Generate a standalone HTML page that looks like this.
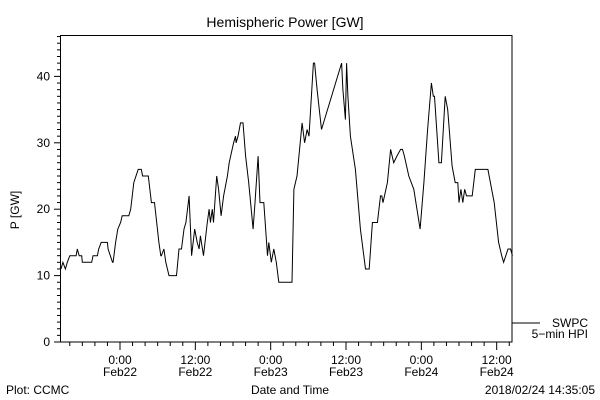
<!DOCTYPE html>
<html><head><meta charset="utf-8"><style>
html,body{margin:0;padding:0;background:#fff;}
svg{display:block;font-family:"Liberation Sans",sans-serif;}
text{font-size:12px;fill:#000;}
</style></head><body>
<svg id="chart" width="600" height="400">
<rect x="0" y="0" width="600" height="400" fill="#fff"/>
<text x="285" y="27" text-anchor="middle" style="font-size:14px">Hemispheric Power [GW]</text>
<text transform="translate(19,210) rotate(-90)" text-anchor="middle">P [GW]</text>
<text x="290" y="394" text-anchor="middle">Date and Time</text>
<text x="6" y="394">Plot: CCMC</text>
<text x="595" y="394" text-anchor="end">2018/02/24 14:35:05</text>
<line x1="512" y1="323" x2="540" y2="323" stroke="#000"/>
<text x="588" y="327" text-anchor="end">SWPC</text>
<text x="588" y="338" text-anchor="end">5−min HPI</text>
<g id="axes"></g>
<rect x="60.5" y="35.5" width="451.5" height="306.5" fill="none" stroke="#000"/>
</svg>
<script>
const hours=[-9.4,-9.1,-8.7,-8.4,-8.0,-7.0,-6.8,-6.5,-6.1,-6.0,-4.5,-4.3,-3.6,-3.4,-3.0,-2.0,-1.9,-1.2,-1.1,-0.7,-0.35,0.1,0.35,1.4,1.7,2.2,2.9,3.4,3.6,4.5,5.0,5.5,6.2,6.5,6.6,7.0,7.3,7.8,9.0,9.4,9.8,10.2,10.5,11.0,11.4,11.9,12.3,12.6,12.8,13.3,13.9,14.2,14.4,14.7,14.9,15.4,15.7,16.1,16.5,17.1,17.4,18.1,18.4,18.5,18.8,19.2,19.6,20.0,20.5,21.2,21.5,22.0,22.3,22.9,23.5,23.7,24.1,24.5,24.9,25.3,27.4,27.7,28.2,28.7,29.0,29.4,29.8,30.1,30.8,31.0,31.4,32.1,35.3,35.5,35.9,36.1,36.3,36.7,37.5,38.3,39.1,39.7,40.2,41.0,41.5,41.7,41.9,42.6,43.1,43.6,44.1,44.7,45.0,45.3,46.0,46.8,47.8,48.4,49.0,49.6,49.9,50.1,50.8,51.2,51.8,52.2,52.9,53.4,53.8,54.0,54.3,54.6,54.9,55.2,56.1,56.6,57.2,58.6,59.0,59.6,60.3,60.8,61.1,61.8,62.2,62.5];
const power=[11,12,11,12,13,13,14,13,13,12,12,13,13,14,15,15,14,12,12,15,17,18,19,19,20,24,26,26,25,25,21,21,15,13,13,14,12,10,10,14,14,17,18,22,13,17,15,14,16,13,18,20,18,20,18,25,23,19,22,25,27,30,31,30,31,33,33,28,24,17,21,28,21,21,13,15,12,14,12,9,9,23,25,30,33,30,32,31,42,42,38,32,42,38,33.5,42,37,31,26,17,11,11,18,18,22,22,21,24,29,27,28,29,29,28,25,23,17,24,32,39,37,37,27,27,37,35,26.5,24,24,21,23,21,23,22,22,26,26,26,24,21,15,13,12,14,14,13];
const yTickLabels=["0","10","20","30","40"];
const xTickLabels=[["0:00","Feb22"],["12:00","Feb22"],["0:00","Feb23"],["12:00","Feb23"],["0:00","Feb24"],["12:00","Feb24"]];
const xTickHours=[0,12,24,36,48,60];
const yTickValues=[0,10,20,30,40];

const NS="http://www.w3.org/2000/svg";
const X0=60.5,X1=512,Y0=342,Y1=35.5;
const H0=-9.6,H1=62.5;
function xs(h){return 120+(h)*6.278;}
function ys(v){return 342-v*6.64;}
const svg=document.getElementById('chart');
const g=document.getElementById('axes');
function mk(tag,attrs){const e=document.createElementNS(NS,tag);for(const k in attrs)e.setAttribute(k,attrs[k]);return e;}
// y ticks
for(let v=0;v<=46;v++){
  const major=v%10===0;
  const t=mk('line',{x1:major?54:57,x2:60.5,y1:ys(v),y2:ys(v),stroke:'#000'});
  
  
  g.appendChild(t);
}
yTickValues.forEach((v,i)=>{
  const t=mk('text',{x:50,y:ys(v)+4,'text-anchor':'end'});
  t.textContent=yTickLabels[i];
  
  
  g.appendChild(t);
});
// x ticks every 2h
for(let h=-8;h<=62;h+=2){
  const major=h%12===0;
  const x=xs(h);
  if(x<X0||x>X1)continue;
  const t=mk('line',{x1:x,x2:x,y1:342,y2:major?350:346,stroke:'#000'});
  
  
  g.appendChild(t);
}
xTickHours.forEach((h,i)=>{
  const t1=mk('text',{x:xs(h),y:364,'text-anchor':'middle'});
  t1.textContent=xTickLabels[i][0];
  
  
  g.appendChild(t1);
  const t2=mk('text',{x:xs(h),y:376,'text-anchor':'middle'});
  t2.textContent=xTickLabels[i][1];
  
  
  g.appendChild(t2);
});
// series
const pts=hours.map((h,i)=>xs(h).toFixed(1)+','+ys(power[i]).toFixed(1)).join(' ');
const line=mk('polyline',{points:pts,fill:'none',stroke:'#000','stroke-width':1});


g.appendChild(line);
</script>
</body></html>
